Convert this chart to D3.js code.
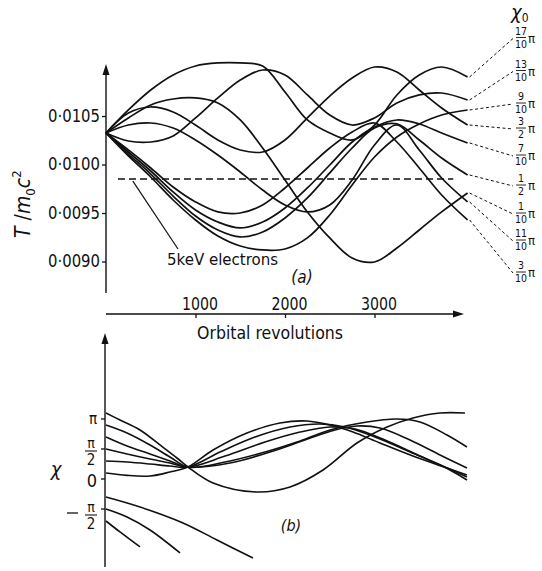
<!DOCTYPE html>
<html>
<head>
<meta charset="utf-8">
<title>T and chi against orbital revolutions</title>
<style>
  body { margin: 0; background: #fff; }
  svg { display: block; }
  text { font-family: "DejaVu Sans Condensed", "DejaVu Sans", sans-serif; fill: #111; }
</style>
</head>
<body>
<svg id="chart" width="542" height="571" xmlns="http://www.w3.org/2000/svg"></svg>
<script src="https://d3js.org/d3.v7.min.js"></script>
<script>
// ---- data ----
const revs = [0, 250, 500, 750, 1000, 1250, 1500, 1750, 2000, 2250, 2500, 2750, 3000, 3250, 3500, 3750, 4040];

// panel (a): T / m0c^2, one series per chi0 (same order as the labels, top to bottom)
const t1710 = [0.010325, 0.010562, 0.010768, 0.010923, 0.011016, 0.011047, 0.011047, 0.011016, 0.010748, 0.010459, 0.010325, 0.010253, 0.010407, 0.010717, 0.010923, 0.011005, 0.010902];
const t1310 = [0.010325, 0.010242, 0.010232, 0.010294, 0.010480, 0.010686, 0.010871, 0.010974, 0.010923, 0.010717, 0.010510, 0.010407, 0.010480, 0.010634, 0.010717, 0.010737, 0.010665];
const t0910 = [0.010325, 0.010088, 0.009871, 0.009634, 0.009428, 0.009263, 0.009160, 0.009119, 0.009129, 0.009243, 0.009480, 0.009789, 0.010077, 0.010284, 0.010418, 0.010510, 0.010562];
const t0302 = [0.010325, 0.010531, 0.010593, 0.010541, 0.010407, 0.010253, 0.010150, 0.010129, 0.010253, 0.010480, 0.010706, 0.010892, 0.011005, 0.010954, 0.010768, 0.010583, 0.010407];
const t0710 = [0.010325, 0.010129, 0.009933, 0.009717, 0.009531, 0.009407, 0.009346, 0.009407, 0.009552, 0.009758, 0.009995, 0.010232, 0.010387, 0.010459, 0.010418, 0.010325, 0.010222];
const t0102 = [0.010325, 0.010108, 0.009902, 0.009675, 0.009469, 0.009325, 0.009253, 0.009304, 0.009449, 0.009655, 0.009913, 0.010170, 0.010376, 0.010418, 0.010253, 0.010067, 0.009892];
const t0110 = [0.010325, 0.010480, 0.010614, 0.010675, 0.010686, 0.010634, 0.010459, 0.010170, 0.009840, 0.009511, 0.009243, 0.009036, 0.008995, 0.009139, 0.009325, 0.009511, 0.009706];
const t1110 = [0.010325, 0.010407, 0.010428, 0.010376, 0.010253, 0.010098, 0.009923, 0.009737, 0.009583, 0.009511, 0.009583, 0.009840, 0.010201, 0.010407, 0.010150, 0.009861, 0.009614];
const t0310 = [0.010325, 0.010150, 0.009964, 0.009768, 0.009614, 0.009511, 0.009500, 0.009583, 0.009758, 0.009964, 0.010170, 0.010335, 0.010428, 0.010232, 0.009964, 0.009686, 0.009428];

const chi0Num = ["17", "13", "9", "3", "7", "1", "1", "11", "3"];
const chi0Den = ["10", "10", "10", "2", "10", "2", "10", "10", "10"];
const resonanceT = 0.00985;   // dashed line

const tTicks = [0.0090, 0.0095, 0.0100, 0.0105];
const tTickLabels = ["0·0090", "0·0095", "0·0100", "0·0105"];
const revTicks = [1000, 2000, 3000];

// panel (b): chi in units of pi
const rev1110 = [0, 156, 380, 603, 793, 916, 1196, 1687, 2056, 2425, 2804, 3140, 3430, 3732, 4011];
const chi1110 = [1.1, 0.983, 0.817, 0.567, 0.35, 0.2, -0.067, -0.217, -0.133, 0.15, 0.6, 0.867, 1.017, 1.1, 1.1];
const rev0910 = [0, 235, 492, 715, 916, 1330, 1777, 2134, 2503, 2916, 3251, 3508, 3810, 4033];
const chi0910 = [0.9, 0.767, 0.567, 0.367, 0.2, 0.283, 0.45, 0.617, 0.817, 0.95, 1.0, 0.95, 0.733, 0.533];
const rev0110 = [0, 235, 492, 715, 916, 1196, 1575, 1944, 2246, 2503, 2760, 3061, 3430, 3810, 4033];
const chi0110 = [0.1, 0.06, 0.05, 0.117, 0.2, 0.483, 0.767, 0.933, 0.967, 0.9, 0.783, 0.6, 0.383, 0.183, 0.067];
const rev0310 = [0, 235, 492, 715, 916, 1274, 1665, 2056, 2391, 2670, 3006, 3397, 3788, 4033];
const chi0310 = [0.3, 0.283, 0.25, 0.217, 0.2, 0.45, 0.7, 0.867, 0.917, 0.867, 0.7, 0.45, 0.2, 0.033];
const rev0102 = [0, 235, 492, 715, 916, 1330, 1777, 2168, 2503, 2782, 3117, 3508, 3843, 4033];
const chi0102 = [0.5, 0.417, 0.333, 0.267, 0.2, 0.383, 0.617, 0.783, 0.867, 0.833, 0.65, 0.383, 0.15, -0.017];
const rev0710 = [0, 235, 492, 715, 916, 1385, 1832, 2223, 2559, 2804, 3061, 3397, 3732, 4033];
const chi0710 = [0.7, 0.55, 0.417, 0.3, 0.2, 0.267, 0.45, 0.65, 0.817, 0.883, 0.85, 0.65, 0.4, 0.183];
// the three that run away downward
const rev1710 = [0, 380, 860, 1240, 1642];
const chi1710 = [-0.3, -0.467, -0.733, -1.017, -1.317];
const rev0302 = [0, 235, 492, 827];
const chi0302 = [-0.5, -0.633, -0.85, -1.233];
const rev1310 = [0, 156, 380];
const chi1310 = [-0.7, -0.883, -1.133];

const chiTicks = [1, 0.5, 0, -0.5];

// ---- drawing ----
const svg = d3.select("#chart");
const ink = "#111";

const x = d3.scaleLinear().domain([0, 4000]).range([106, 464]);
const yT = d3.scaleLinear().domain([0.0090, 0.0105]).range([261.5, 116]);
const yC = d3.scaleLinear().domain([-0.5, 1]).range([509, 419]);

function arrow(px, py, dir) {
  const p = dir === "up"
    ? `M${px},${py} L${px - 3.5},${py + 11} L${px + 3.5},${py + 11} Z`
    : `M${px},${py} L${px - 11},${py - 3.5} L${px - 11},${py + 3.5} Z`;
  svg.append("path").attr("d", p).attr("fill", ink);
}

// panel (a) axes
svg.append("line").attr("x1", x(0)).attr("x2", x(0)).attr("y1", 293).attr("y2", 72)
  .attr("stroke", ink).attr("stroke-width", 1.4);
arrow(x(0), 64, "up");

const gy = svg.append("g").attr("transform", `translate(${x(0)},0)`)
  .call(d3.axisLeft(yT).tickValues(tTicks).tickSize(4).tickPadding(2)
    .tickFormat((d, i) => tTickLabels[i]));
gy.select(".domain").remove();
gy.selectAll("line").attr("stroke", ink).attr("stroke-width", 1.3);
gy.selectAll("text").attr("font-size", 17).attr("fill", ink)
  .attr("textLength", 52).attr("lengthAdjust", "spacingAndGlyphs");
gy.attr("font-family", null);

svg.append("line").attr("x1", x(0)).attr("x2", 455).attr("y1", 314).attr("y2", 314)
  .attr("stroke", ink).attr("stroke-width", 1.4);
arrow(464, 314, "right");

const gx = svg.append("g").attr("transform", "translate(0,314)")
  .call(d3.axisTop(x).tickValues(revTicks).tickSize(-4).tickPadding(4).tickFormat(d3.format("d")));
gx.select(".domain").remove();
gx.selectAll("line").attr("stroke", ink).attr("stroke-width", 1.3);
gx.selectAll("text").attr("font-size", 17).attr("fill", ink).attr("dx", 4)
  .attr("textLength", 36).attr("lengthAdjust", "spacingAndGlyphs");
gx.attr("font-family", null);

svg.append("text").attr("x", 270).attr("y", 339).attr("text-anchor", "middle")
  .attr("font-size", 17).attr("textLength", 146).attr("lengthAdjust", "spacingAndGlyphs")
  .text("Orbital revolutions");

// y label T/m0c^2 (rotated)
const yl = svg.append("text").attr("transform", "translate(30,238) rotate(-90)")
  .attr("font-size", 21);
yl.append("tspan").attr("font-style", "italic").text("T");
yl.append("tspan").text(" /");
yl.append("tspan").attr("font-style", "italic").text("m");
yl.append("tspan").attr("font-size", 13).attr("dy", 5).text("0");
yl.append("tspan").attr("font-style", "italic").attr("dy", -5).text("c");
yl.append("tspan").attr("font-size", 13).attr("dy", -9).text("2");

// dashed resonance line
svg.append("line").attr("x1", x(134)).attr("x2", x(3880))
  .attr("y1", yT(resonanceT)).attr("y2", yT(resonanceT))
  .attr("stroke", ink).attr("stroke-width", 1.6).attr("stroke-dasharray", "7,4");

// curves (a)
const upper = [t1710, t1310, t0910, t0302, t0710, t0102, t0110, t1110, t0310];
const lineT = d3.line().x((d, i) => x(revs[i])).y(d => yT(d)).curve(d3.curveCatmullRom.alpha(0.5));
svg.append("g").attr("fill", "none").attr("stroke", ink).attr("stroke-width", 1.7)
  .selectAll("path").data(upper).join("path").attr("d", lineT);

// 5 keV electrons label
svg.append("line").attr("x1", x(300)).attr("y1", yT(resonanceT) + 2).attr("x2", 178).attr("y2", 249)
  .attr("stroke", ink).attr("stroke-width", 1.2);
svg.append("text").attr("x", 167).attr("y", 265).attr("font-size", 16)
  .attr("textLength", 111).attr("lengthAdjust", "spacingAndGlyphs").text("5keV electrons");
svg.append("text").attr("x", 302).attr("y", 283).attr("text-anchor", "middle")
  .attr("font-size", 17).attr("font-style", "italic").text("(a)");

// chi0 legend with dashed leaders
const labelY = [37.5, 70.5, 103, 128, 155, 185, 213, 240, 272];
svg.append("text").attr("x", 511).attr("y", 19).attr("font-size", 20).attr("font-style", "italic")
  .text("χ").append("tspan").attr("font-size", 12).attr("font-style", "normal").attr("dy", 3).text("0");

upper.forEach((s, i) => {
  const ex = x(revs[revs.length - 1]) + 2, ey = yT(s[s.length - 1]);
  svg.append("line").attr("x1", ex).attr("y1", ey).attr("x2", 513).attr("y2", labelY[i] + 1)
    .attr("stroke", ink).attr("stroke-width", 1).attr("stroke-dasharray", "3,2.5");
  const g = svg.append("g").attr("transform", `translate(521,${labelY[i]})`);
  g.append("text").attr("y", -2.6).attr("text-anchor", "middle").attr("font-size", 10.5).text(chi0Num[i]);
  g.append("line").attr("x1", -5).attr("x2", 5).attr("y1", 0).attr("y2", 0).attr("stroke", ink).attr("stroke-width", 0.9);
  g.append("text").attr("y", 10).attr("text-anchor", "middle").attr("font-size", 10.5).text(chi0Den[i]);
  g.append("text").attr("x", 7).attr("y", 5).attr("font-size", 13).text("π");
});

// panel (b) axis
svg.append("line").attr("x1", 105).attr("x2", 105).attr("y1", 567).attr("y2", 342)
  .attr("stroke", ink).attr("stroke-width", 1.4);
arrow(105, 333, "up");
svg.append("g").selectAll("line").data(chiTicks).join("line")
  .attr("x1", 101).attr("x2", 105).attr("y1", d => yC(d)).attr("y2", d => yC(d))
  .attr("stroke", ink).attr("stroke-width", 1.3);

svg.append("text").attr("x", 93).attr("y", yC(1) + 5).attr("text-anchor", "middle").attr("font-size", 15).text("π");
function piHalf(cx, cy) {
  svg.append("text").attr("x", cx).attr("y", cy - 3.5).attr("text-anchor", "middle").attr("font-size", 14).text("π");
  svg.append("line").attr("x1", cx - 6).attr("x2", cx + 6).attr("y1", cy).attr("y2", cy).attr("stroke", ink).attr("stroke-width", 1.1);
  svg.append("text").attr("x", cx).attr("y", cy + 14).attr("text-anchor", "middle").attr("font-size", 15).text("2");
}
piHalf(91, yC(0.5) + 2);
svg.append("text").attr("x", 92).attr("y", yC(0) + 8).attr("text-anchor", "middle").attr("font-size", 18).text("0");
svg.append("line").attr("x1", 67).attr("x2", 78).attr("y1", yC(-0.5) + 4).attr("y2", yC(-0.5) + 4).attr("stroke", ink).attr("stroke-width", 1.3);
piHalf(91, yC(-0.5) + 6);
svg.append("text").attr("x", 56).attr("y", 476).attr("text-anchor", "middle").attr("font-size", 20)
  .attr("font-style", "italic").text("χ");
svg.append("text").attr("x", 291).attr("y", 531).attr("text-anchor", "middle").attr("font-size", 16)
  .attr("font-style", "italic").text("(b)");

// curves (b)
const lower = [
  [rev1110, chi1110], [rev0910, chi0910], [rev0110, chi0110], [rev0310, chi0310],
  [rev0102, chi0102], [rev0710, chi0710], [rev1710, chi1710], [rev0302, chi0302], [rev1310, chi1310]
];
const lineC = d3.line().x(d => x(d[0])).y(d => yC(d[1])).curve(d3.curveCatmullRom.alpha(0.5));
svg.append("g").attr("fill", "none").attr("stroke", ink).attr("stroke-width", 1.6)
  .selectAll("path").data(lower).join("path")
  .attr("d", d => lineC(d[0].map((r, i) => [r, d[1][i]])));
</script>
</body>
</html>
